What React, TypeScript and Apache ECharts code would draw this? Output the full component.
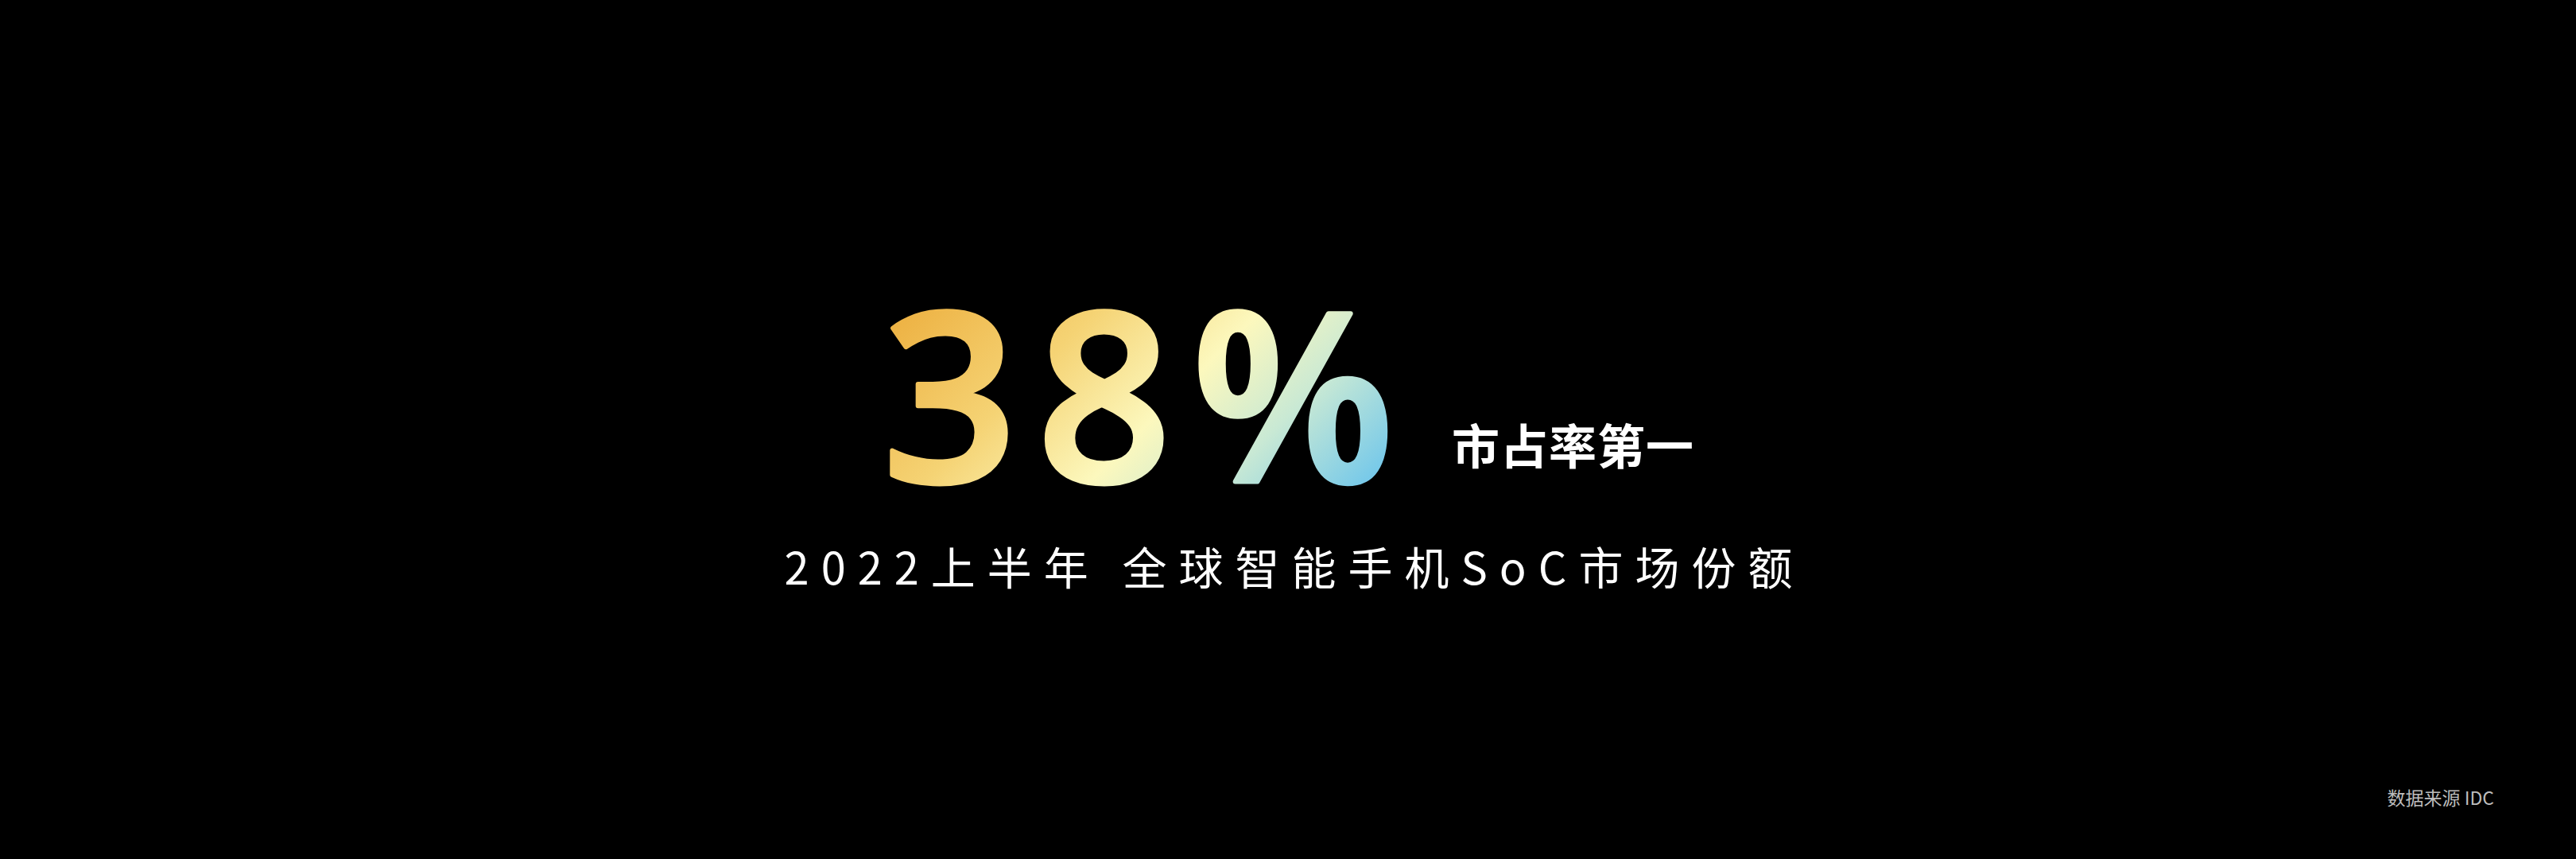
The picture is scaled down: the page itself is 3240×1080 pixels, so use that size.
import { useEffect, useRef } from "react";
import * as echarts from "echarts";

// headline figure and its labels
const shareValues = [38];
const shareUnits = ["%"];
const rankLabels = ["市占率第一"];
const periodLabels = ["2022上半年"];
const metricLabels = ["全球智能手机SoC市场份额"];
const sourceLabels = ["数据来源 IDC"];

const CJK = '"Noto Sans CJK SC", "Noto Sans", sans-serif';
const SVG_NS = "http://www.w3.org/2000/svg";
const FIGURE_SIZE = 296;

// gold top-left -> pale yellow -> sky blue bottom-right
const figureStops = [
  { offset: 0, color: "#edb142" },
  { offset: 0.3, color: "#f5d374" },
  { offset: 0.55, color: "#fcf8bd" },
  { offset: 0.75, color: "#c9e9d4" },
  { offset: 1, color: "#6cc5ec" },
];

export default function App() {
  const ref = useRef<HTMLDivElement>(null);

  useEffect(() => {
    if (!ref.current) return;
    const chart = echarts.init(ref.current, undefined, { renderer: "svg" });

    const bigText = `${shareValues[0]}${shareUnits[0]}`;
    const subtitle = `${periodLabels[0]} ${metricLabels[0]}`;

    chart.setOption({
      animation: false,
      backgroundColor: "#000000",
      graphic: [
        {
          type: "text",
          x: 1110,
          y: 491,
          style: {
            text: bigText,
            font: `600 ${FIGURE_SIZE}px "Open Sans", "Noto Sans", sans-serif`,
            fill: "#f5d374",
            align: "left",
            verticalAlign: "middle",
          },
        },
        {
          type: "text",
          x: 1826,
          y: 557,
          style: {
            text: rankLabels[0],
            font: `bold 60px ${CJK}`,
            fill: "#ffffff",
            align: "left",
            verticalAlign: "middle",
          },
        },
        {
          type: "text",
          x: 1628,
          y: 710,
          style: {
            text: subtitle,
            font: `56px ${CJK}`,
            fill: "#ffffff",
            align: "center",
            verticalAlign: "middle",
          },
        },
        {
          type: "text",
          x: 3137,
          y: 1002,
          style: {
            text: sourceLabels[0],
            font: `23px ${CJK}`,
            fill: "#bdbdbd",
            align: "right",
            verticalAlign: "middle",
          },
        },
      ],
    });

    // ECharts has no letter-spacing option and no gradient fill for svg text,
    // so both are applied to the rendered svg nodes
    const spacing: Record<string, number> = {
      [bigText]: 25,
      [rankLabels[0]]: 1,
      [subtitle]: 15,
    };
    const svg = ref.current.querySelector("svg");
    ref.current.querySelectorAll("text").forEach((t) => {
      const el = t as SVGTextElement;
      const txt = el.textContent ?? "";
      const ls = spacing[txt];
      if (ls) el.style.letterSpacing = `${ls}px`;
      if (txt === bigText && svg) {
        let defs = svg.querySelector("defs");
        if (!defs) {
          defs = document.createElementNS(SVG_NS, "defs");
          svg.insertBefore(defs, svg.firstChild);
        }
        const bb = el.getBBox();
        const digitH = 0.714 * FIGURE_SIZE;
        const x1 = bb.x + 15;
        const y1 = bb.y + (1.069 - 0.714) * FIGURE_SIZE;
        const d = (bb.width - 50 + digitH) / 2;
        const grad = document.createElementNS(SVG_NS, "linearGradient");
        grad.setAttribute("id", "figureFill");
        grad.setAttribute("gradientUnits", "userSpaceOnUse");
        grad.setAttribute("x1", String(x1));
        grad.setAttribute("y1", String(y1));
        grad.setAttribute("x2", String(x1 + d));
        grad.setAttribute("y2", String(y1 + d));
        figureStops.forEach((s) => {
          const stop = document.createElementNS(SVG_NS, "stop");
          stop.setAttribute("offset", String(s.offset));
          stop.setAttribute("stop-color", s.color);
          grad.appendChild(stop);
        });
        defs.appendChild(grad);
        el.setAttribute("fill", "url(#figureFill)");
        el.style.fill = "url(#figureFill)";
        // an outline in the same gradient brings the weight close to semibold
        el.style.stroke = "url(#figureFill)";
        el.style.strokeWidth = "6px";
        el.style.strokeLinejoin = "round";
      }
    });

    return () => chart.dispose();
  }, []);

  return (
    <div
      ref={ref}
      style={{ position: "fixed", left: 0, top: 0, width: 3240, height: 1080, background: "#000" }}
    />
  );
}
